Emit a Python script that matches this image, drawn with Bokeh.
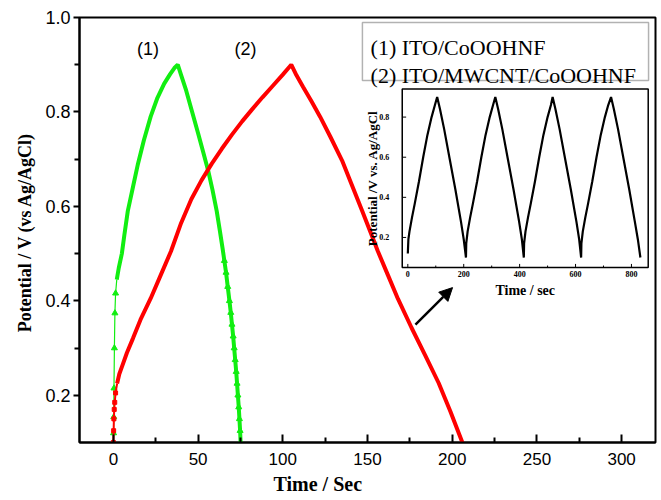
import numpy as np
from bokeh.plotting import figure
from bokeh.models import (Range1d, FixedTicker, PrintfTickFormatter, Title,
                          BoxAnnotation, Arrow, NormalHead)
from bokeh.core.properties import value
from bokeh.embed import file_html
from bokeh.resources import INLINE

# ---------------- data ----------------
# curve (1) ITO/CoOOHNF  (green)
green_t = [0, 0.1, 0.2, 0.35, 0.6, 0.9, 1.3, 2.0, 3.2, 5.0, 6.5, 8.5, 11.5, 14.5, 18, 22, 26, 30, 33.5, 36, 38,
           40, 43, 46.5, 50, 53, 56, 58.5, 61, 63, 64.5, 65.5, 66.5, 67.5, 68.5, 69.3, 70, 70.7, 71.3,
           71.9, 72.5, 73, 73.5, 74, 74.4, 74.8, 75.1]
green_v = [0.100, 0.120, 0.154, 0.215, 0.300, 0.374, 0.416, 0.445, 0.470, 0.500, 0.540, 0.590, 0.640, 0.690,
           0.740, 0.790, 0.830, 0.860, 0.880, 0.893, 0.900,
           0.878, 0.845, 0.800, 0.755, 0.715, 0.675, 0.635, 0.590, 0.545, 0.510, 0.485, 0.460, 0.430, 0.400,
           0.375, 0.350, 0.325, 0.300, 0.275, 0.250, 0.225, 0.200, 0.175, 0.150, 0.125, 0.100]

# curve (2) ITO/MWCNT/CoOOHNF  (red)
red_t = [0, 0.15, 0.3, 0.5, 0.8, 1.3, 2.2, 3.5, 5.5, 8, 11.5, 16, 22, 28, 34, 40, 46, 52, 58, 64, 70, 76,
         82, 88, 94, 100, 105,
         108, 112, 117, 122, 128, 135, 141, 147, 153, 156, 162, 168, 176, 184, 192, 199, 206]
red_v = [0.100, 0.125, 0.150, 0.170, 0.185, 0.205, 0.225, 0.245, 0.265, 0.290, 0.320, 0.360, 0.405, 0.455,
         0.505, 0.565, 0.615, 0.655, 0.690, 0.722, 0.752, 0.780, 0.806, 0.831, 0.855, 0.879, 0.900,
         0.878, 0.853, 0.822, 0.790, 0.748, 0.697, 0.643, 0.589, 0.534, 0.506, 0.455, 0.404, 0.343,
         0.285, 0.226, 0.165, 0.100]

# inset: repeated charge/discharge cycles
inset_t = [0, 2, 6, 15, 25, 40, 55, 70, 85, 97, 105,
           115, 130, 150, 170, 190, 200, 208,
           209, 214, 223, 233, 248, 263, 278, 293, 305, 313,
           323, 338, 358, 378, 398, 408, 415,
           416, 421, 430, 440, 455, 470, 485, 500, 512, 518,
           528, 543, 563, 583, 603, 613, 620,
           621, 626, 635, 645, 660, 675, 690, 705, 717, 727,
           737, 752, 772, 792, 812, 823, 832]
inset_v = [0.12, 0.19, 0.23, 0.30, 0.37, 0.48, 0.60, 0.71, 0.80, 0.86, 0.90,
           0.84, 0.74, 0.59, 0.44, 0.28, 0.19, 0.10,
           0.17, 0.23, 0.30, 0.37, 0.48, 0.60, 0.71, 0.80, 0.86, 0.90,
           0.84, 0.74, 0.59, 0.44, 0.28, 0.19, 0.10,
           0.17, 0.23, 0.30, 0.37, 0.48, 0.60, 0.71, 0.80, 0.86, 0.90,
           0.84, 0.74, 0.59, 0.44, 0.28, 0.19, 0.10,
           0.17, 0.23, 0.30, 0.37, 0.48, 0.60, 0.71, 0.80, 0.86, 0.90,
           0.84, 0.74, 0.59, 0.44, 0.28, 0.19, 0.10]

x_ticks = [0, 50, 100, 150, 200, 250, 300]
x_minor = [25, 75, 125, 175, 225, 275]
y_ticks = [0.2, 0.4, 0.6, 0.8, 1.0]
y_minor = [0.3, 0.5, 0.7, 0.9]

inset_x_ticks = [0, 200, 400, 600, 800]
inset_x_labels = ["0", "200", "400", "600", "800"]
inset_x_minor = [100, 300, 500, 700]
inset_y_ticks = [0.2, 0.4, 0.6, 0.8]
inset_y_labels = ["0.2", "0.4", "0.6", "0.8"]

legend_lines = ["(1) ITO/CoOOHNF", "(2) ITO/MWCNT/CoOOHNF"]

# ---------------- figure ----------------
p = figure(width=660, height=498, x_range=Range1d(-20, 320), y_range=Range1d(0.1, 1.0),
           output_backend="svg", toolbar_location=None,
           min_border_left=79, min_border_right=5, min_border_top=17, min_border_bottom=5)
p.background_fill_color = "white"
p.border_fill_color = "white"
p.grid.visible = False
p.outline_line_color = "black"
p.outline_line_width = 2
p.outline_line_alpha = 1

sans = "Liberation Sans"
serif = "Liberation Serif"

xa = p.xaxis[0]
xa.ticker = FixedTicker(ticks=x_ticks, minor_ticks=x_minor)
xa.axis_line_width = 2
xa.major_tick_in = 8
xa.major_tick_out = 0
xa.minor_tick_in = 5
xa.minor_tick_out = 0
xa.major_tick_line_width = 2
xa.minor_tick_line_width = 2
xa.major_label_text_font = sans
xa.major_label_text_font_size = "17px"
xa.major_label_text_color = "black"
xa.major_label_standoff = 10

ya = p.yaxis[0]
ya.ticker = FixedTicker(ticks=y_ticks, minor_ticks=y_minor)
ya.formatter = PrintfTickFormatter(format="%.1f")
ya.axis_line_width = 2
ya.major_tick_in = 0
ya.major_tick_out = 6
ya.minor_tick_in = 0
ya.minor_tick_out = 5
ya.major_tick_line_width = 2
ya.minor_tick_line_width = 2
ya.major_label_text_font = sans
ya.major_label_text_font_size = "18px"
ya.major_label_text_color = "black"
ya.major_label_standoff = 3
ya.axis_label = "Potential  / V (vs Ag/AgCl)"
ya.axis_label_text_font = serif
ya.axis_label_text_font_style = "bold"
ya.axis_label_text_font_size = "18px"
ya.axis_label_text_color = "black"
ya.axis_label_standoff = 7

# x axis title, sitting left of centre as in the reference
p.add_layout(Title(text="Time  / Sec", align="left", offset=194, text_font=serif,
                   text_font_style="bold", text_font_size="20px", text_color="black",
                   standoff=7), "below")

# ---------------- curves ----------------
green = "#11ee11"
red = "#ff0000"
n_thin_g = 7      # fast initial rise drawn thin
n_mark_g = 31     # lower part of discharge shows separate triangles
n_thin_r = 6
p.line(green_t[:n_thin_g + 1], green_v[:n_thin_g + 1], line_color=green, line_width=1.2)
p.line(green_t[n_thin_g:], green_v[n_thin_g:], line_color=green, line_width=4)
p.scatter(green_t[:n_thin_g], green_v[:n_thin_g], marker="triangle", size=6,
          fill_color=green, line_color=green)
p.scatter(green_t[n_mark_g:], green_v[n_mark_g:], marker="triangle", size=6,
          fill_color=green, line_color=green)

p.line(red_t[:n_thin_r + 1], red_v[:n_thin_r + 1], line_color=red, line_width=2)
p.line(red_t[n_thin_r:], red_v[n_thin_r:], line_color=red, line_width=4)
p.scatter(red_t[:n_thin_r], red_v[:n_thin_r], marker="square", size=4, fill_color=red, line_color=red)

# curve labels
p.text(x=[20.4, 78], y=[0.934, 0.934], text=["(1)", "(2)"], text_font=value(sans),
       text_font_size="18px", text_align="center", text_baseline="middle", text_color="black")

# ---------------- legend box ----------------
p.add_layout(BoxAnnotation(left=147.0, right=315.9, top=0.9894, bottom=0.8666,
                           fill_alpha=0, line_color="black", line_width=1.5))
p.text(x=[151.8, 151.8], y=[0.9365, 0.8772], text=legend_lines, text_font=value(serif),
       text_font_size="22px", text_align="left", text_baseline="alphabetic", text_color="black")

# ---------------- arrow ----------------
p.add_layout(Arrow(x_start=178.3, y_start=0.3498, x_end=200.2, y_end=0.428, line_width=2.5,
                   line_color="black",
                   end=NormalHead(size=13, fill_color="black", line_color="black")))

# ---------------- inset ----------------
sub = p.subplot(x_source=Range1d(-20, 860), y_source=Range1d(0.05, 0.94),
                x_target=Range1d(170.5, 315.7), y_target=Range1d(0.4705, 0.8486))
sub.quad(left=[-20], right=[860], bottom=[0.05], top=[0.94], fill_color="white",
         line_color="black", line_width=1.5)
sub.line(inset_t, inset_v, line_color="black", line_width=2.2)
# ticks
sub.segment(x0=inset_x_ticks, y0=[0.05] * 5, x1=inset_x_ticks, y1=[0.068] * 5,
            line_color="black", line_width=1)
sub.segment(x0=inset_x_minor, y0=[0.05] * 4, x1=inset_x_minor, y1=[0.06] * 4,
            line_color="black", line_width=1)
sub.segment(x0=[-20] * 4, y0=inset_y_ticks, x1=[-6] * 4, y1=inset_y_ticks,
            line_color="black", line_width=1)
sub.text(x=inset_x_ticks, y=[0.05] * 5, text=inset_x_labels, text_font=value(serif),
         text_font_style="bold", text_font_size="8px", text_align="center", text_baseline="top",
         y_offset=3, text_color="black")
sub.text(x=[-20] * 4, y=inset_y_ticks, text=inset_y_labels, text_font=value(serif),
         text_font_style="bold", text_font_size="8px", text_align="right", text_baseline="middle",
         x_offset=-13, text_color="black")
sub.text(x=[420], y=[0.05], text=["Time / sec"], text_font=value(serif), text_font_style="bold",
         text_font_size="14px", text_align="center", text_baseline="top", y_offset=15,
         text_color="black")
sub.text(x=[-20], y=[0.495], text=["Potential /V vs. Ag/AgCl"], text_font=value(serif),
         text_font_style="bold", text_font_size="13px", text_align="center",
         text_baseline="middle", x_offset=-30, angle=np.pi / 2, text_color="black")

open("out.html", "w").write(file_html(p, INLINE))
